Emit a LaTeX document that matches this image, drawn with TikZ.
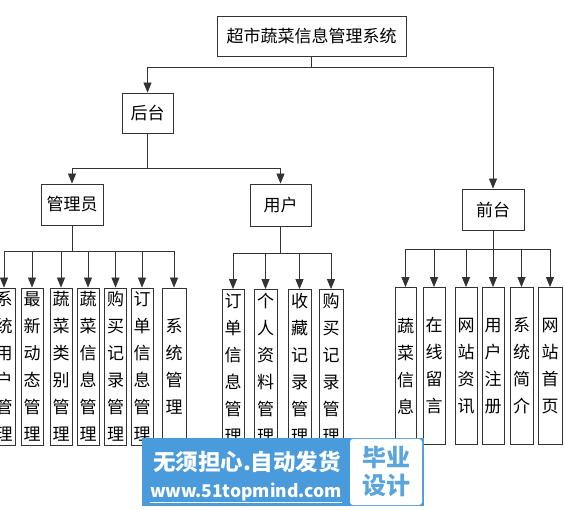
\documentclass[tikz,border=0pt]{standalone}
\usepackage{fontspec}
\newfontfamily\cjk{Noto Sans CJK SC}
\usetikzlibrary{arrows.meta}
\definecolor{wmblue}{HTML}{4A9BDC}
\definecolor{wmtext}{HTML}{5AA5DE}
\definecolor{lnk}{HTML}{333333}
\begin{document}
\begin{tikzpicture}[x=1pt,y=-1pt,
  box/.style={draw=lnk, line width=0.8pt, inner sep=0pt, font=\cjk\fontsize{17}{20}\selectfont},
  vbox/.style={draw=lnk, line width=0.8pt, inner xsep=0pt, inner ysep=0pt,
    minimum width=#1, minimum height=157pt, align=center,
    font=\cjk\fontsize{17}{27}\selectfont},
  vbox/.default=22pt,
  link/.style={draw=lnk, line width=0.8pt},
  arr/.style={link, -{Triangle[width=8pt,length=10pt]}}]
\useasboundingbox[fill=white] (0,0) rectangle (565,510);

% upper levels
\node[box,minimum width=189pt,minimum height=40pt] (top) at (311.5,36) {超市蔬菜信息管理系统};
\node[box,minimum width=51pt,minimum height=40pt] (ht) at (147.5,113) {后台};
\node[box,minimum width=62pt,minimum height=41pt] (gly) at (72,204.5) {管理员};
\node[box,minimum width=61pt,minimum height=42pt] (yh) at (280.5,205) {用户};
\node[box,minimum width=62pt,minimum height=41pt] (qt) at (493,209.5) {前台};

% manager children
\node[vbox=22pt] (m1) at (4,366.5) {系\\统\\用\\户\\管\\理};
\node[vbox] (m2) at (32,366.5) {最\\新\\动\\态\\管\\理};
\node[vbox] (m3) at (61,366.5) {蔬\\菜\\类\\别\\管\\理};
\node[vbox] (m4) at (88,366.5) {蔬\\菜\\信\\息\\管\\理};
\node[vbox] (m5) at (115.5,366.5) {购\\买\\记\\录\\管\\理};
\node[vbox] (m6) at (142,366.5) {订\\单\\信\\息\\管\\理};
\node[vbox=24pt] (m7) at (174,366.5) {系\\统\\管\\理};

% user children
\node[vbox] (u1) at (233,368) {订\\单\\信\\息\\管\\理};
\node[vbox=23pt] (u2) at (265.5,368) {个\\人\\资\\料\\管\\理};
\node[vbox=23pt] (u3) at (299.5,368) {收\\藏\\记\\录\\管\\理};
\node[vbox=24pt] (u4) at (331,368) {购\\买\\记\\录\\管\\理};

% front children
\node[vbox=21pt] (f1) at (405.5,366) {蔬\\菜\\信\\息};
\node[vbox] (f2) at (434,366) {在\\线\\留\\言};
\node[vbox] (f3) at (466,366) {网\\站\\资\\讯};
\node[vbox] (f4) at (493,366) {用\\户\\注\\册};
\node[vbox=23pt] (f5) at (521.5,366) {系\\统\\简\\介};
\node[vbox=24pt] (f6) at (550,366) {网\\站\\首\\页};

% connectors
\coordinate (b0) at (311.5,67);
\draw[link] (top.south) -- (b0);
\draw[arr] (b0) -| (ht.north);
\draw[arr] (b0) -| (qt.north);

\coordinate (b1) at (147.5,168);
\draw[link] (ht.south) -- (b1);
\draw[arr] (b1) -| (gly.north);
\draw[arr] (b1) -| (yh.north);

\coordinate (b2) at (72,251);
\draw[link] (gly.south) -- (b2);
\foreach \c in {m1,m2,m3,m4,m5,m6,m7} \draw[arr] (b2) -| (\c.north);

\coordinate (b3) at (280.5,253);
\draw[link] (yh.south) -- (b3);
\foreach \c in {u1,u2,u3,u4} \draw[arr] (b3) -| (\c.north);

\coordinate (b4) at (493,249);
\draw[link] (qt.south) -- (b4);
\foreach \c in {f1,f2,f3,f4,f5,f6} \draw[arr] (b4) -| (\c.north);

% watermark
\node[fill=wmblue, minimum width=282pt, minimum height=68pt, inner sep=0pt] (wm) at (283,472) {};
\node[fill=white, rounded corners=3pt, minimum width=72pt, minimum height=66pt, inner sep=0pt,
  align=center, text=wmtext, font=\cjk\bfseries\fontsize{24}{28}\selectfont] (bysj) at (386,472) {毕业\\设计};
\node[text=white, inner sep=0pt, font=\cjk\bfseries\fontsize{22.5}{24}\selectfont] (wm1) at (247,462) {无须担心.自动发货};
\node[text=white, inner sep=0pt, font=\cjk\bfseries\fontsize{17.5}{20}\selectfont] (wm2) at (246,493) {\underline{www.51topmind.com}};
\end{tikzpicture}
\end{document}
